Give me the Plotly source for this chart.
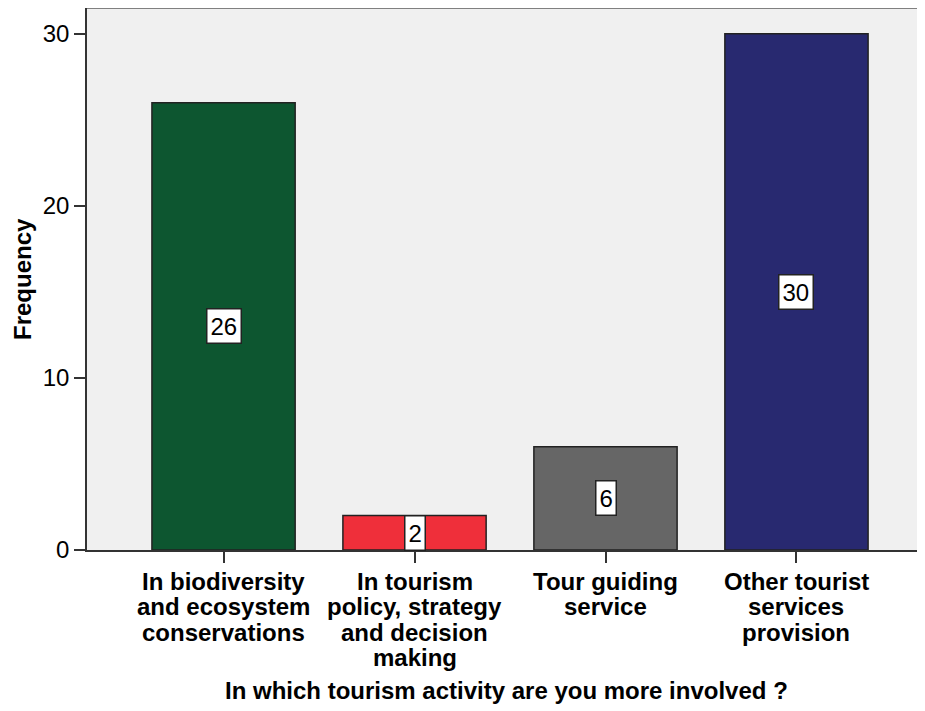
import plotly.graph_objects as go

categories = [["In biodiversity", "and ecosystem", "conservations"],
              ["In tourism", "policy, strategy", "and decision", "making"],
              ["Tour guiding", "service"],
              ["Other tourist", "services", "provision"]]
values = [26, 2, 6, 30]
colors = ["#0D5630", "#EF2F3A", "#666666", "#282970"]
y_ticks = [0, 10, 20, 30]
x_title = "In which tourism activity are you more involved ?"
y_title = "Frequency"

FONT = "Liberation Sans, Arial"
x = list(range(len(categories)))

fig = go.Figure()
fig.add_trace(go.Bar(
    x=x, y=values, width=0.75,
    marker=dict(color=colors, line=dict(color="#222222", width=1.5)),
    hoverinfo="skip", showlegend=False,
))

for xi, v in zip(x, values):
    fig.add_annotation(
        x=xi, y=v / 2, text=str(v), showarrow=False,
        font=dict(family=FONT, size=24, color="black"),
        bgcolor="white", bordercolor="#222222", borderwidth=1.5, borderpad=3,
    )

# multi-line category labels with tight line spacing
for xi, lines in zip(x, categories):
    for i, line in enumerate(lines):
        fig.add_annotation(
            x=xi, xref="x", y=0, yref="paper", yanchor="middle",
            yshift=-(31 + 25.5 * i), text="<b>" + line + "</b>", showarrow=False,
            font=dict(family=FONT, size=24, color="black"),
        )

fig.add_annotation(
    x=0.5, xref="paper", y=0, yref="paper", yanchor="middle", yshift=-140,
    text="<b>" + x_title + "</b>", showarrow=False,
    font=dict(family=FONT, size=24, color="black"),
)
fig.add_annotation(
    x=0, xref="paper", xanchor="center", xshift=-65, y=0.5, yref="paper",
    yanchor="middle", textangle=-90,
    text="<b>" + y_title + "</b>", showarrow=False,
    font=dict(family=FONT, size=24, color="black"),
)

fig.add_shape(type="line", xref="paper", yref="paper", x0=0, x1=1, y0=1, y1=1,
              line=dict(color="#808080", width=2))

fig.update_layout(
    width=917, height=703,
    margin=dict(l=79, r=0, t=0, b=161),
    paper_bgcolor="white", plot_bgcolor="#F0F0F0",
    font=dict(family=FONT, color="black"),
    xaxis=dict(
        range=[-0.715, 3.673], tickmode="array", tickvals=x,
        ticktext=["" for _ in x],
        ticks="outside", ticklen=11, tickcolor="#333333", tickwidth=1.5,
        showline=True, linecolor="#333333", linewidth=1.5,
        showgrid=False, zeroline=False,
    ),
    yaxis=dict(
        range=[0, 31.5], tickvals=y_ticks,
        ticks="outside", ticklen=11, tickcolor="#333333", tickwidth=1.5,
        showline=True, linecolor="#333333", linewidth=1.5,
        showgrid=False, zeroline=False,
        tickfont=dict(size=24),
    ),
    bargap=0.25,
)

fig.write_html("out.html")
